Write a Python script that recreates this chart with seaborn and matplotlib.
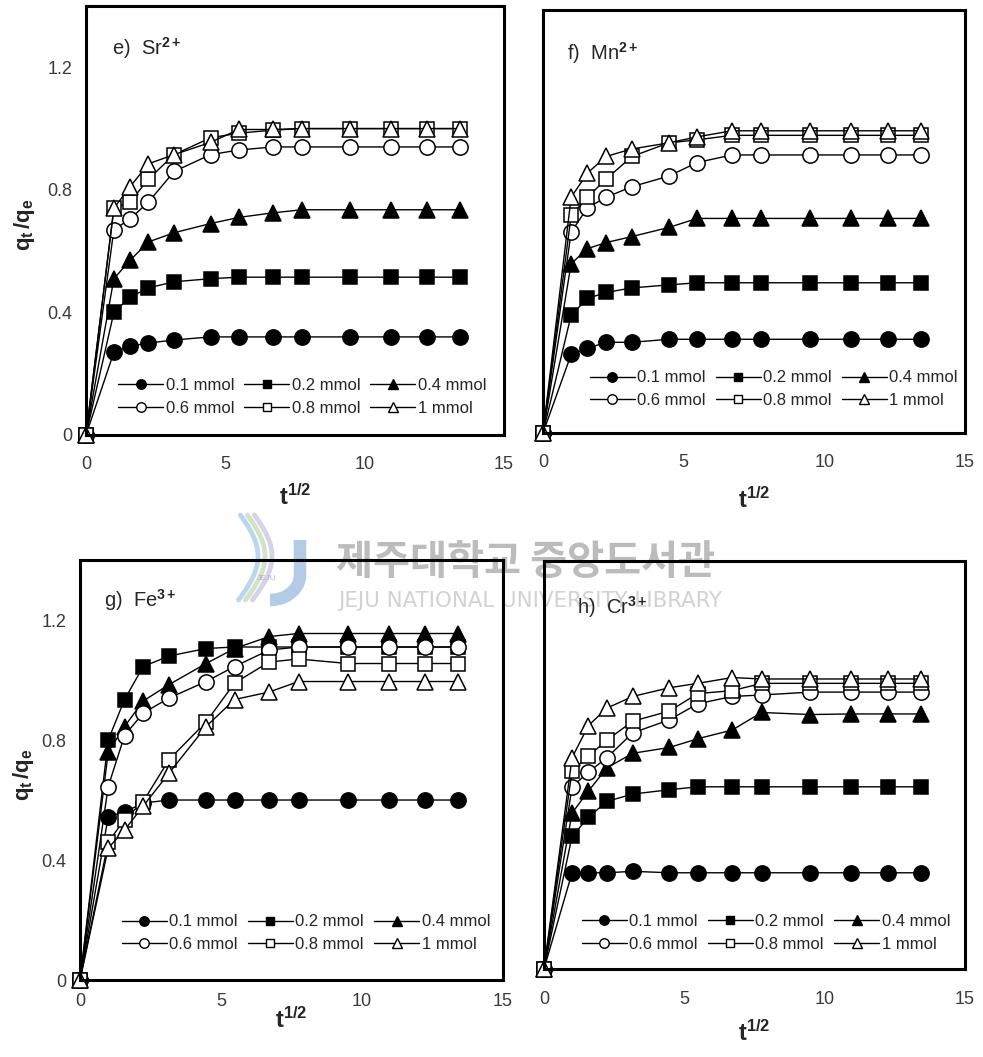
import numpy as np
import pandas as pd
import matplotlib
matplotlib.use('Agg')
import matplotlib.pyplot as plt
import seaborn as sns
from matplotlib.lines import Line2D

sns.set_style('white')
plt.rcParams['font.family'] = ['Liberation Sans', 'DejaVu Sans']
plt.rcParams['mathtext.fontset'] = 'custom'
plt.rcParams['mathtext.rm'] = 'Liberation Sans'
plt.rcParams['mathtext.bf'] = 'Liberation Sans:bold'
plt.rcParams['mathtext.it'] = 'Liberation Sans:italic'

# ---------------- data ----------------
sqrt_t = [0, 1.0, 1.58, 2.24, 3.16, 4.47, 5.48, 6.71, 7.75, 9.49, 10.95, 12.25, 13.42]
doses = ['0.1 mmol', '0.2 mmol', '0.4 mmol', '0.6 mmol', '0.8 mmol', '1 mmol']

sr_01 = [0, 0.27, 0.29, 0.30, 0.31, 0.32, 0.32, 0.32, 0.32, 0.32, 0.32, 0.32, 0.32]
sr_02 = [0, 0.40, 0.45, 0.48, 0.50, 0.51, 0.515, 0.515, 0.515, 0.515, 0.515, 0.515, 0.515]
sr_04 = [0, 0.51, 0.57, 0.63, 0.66, 0.69, 0.71, 0.725, 0.735, 0.735, 0.735, 0.735, 0.735]
sr_06 = [0, 0.67, 0.705, 0.76, 0.86, 0.915, 0.93, 0.94, 0.94, 0.94, 0.94, 0.94, 0.94]
sr_08 = [0, 0.74, 0.76, 0.835, 0.915, 0.97, 0.985, 0.995, 1.0, 1.0, 1.0, 1.0, 1.0]
sr_10 = [0, 0.74, 0.81, 0.885, 0.915, 0.955, 0.997, 0.997, 1.0, 1.0, 1.0, 1.0, 1.0]

mn_01 = [0, 0.26, 0.28, 0.30, 0.30, 0.31, 0.31, 0.31, 0.31, 0.31, 0.31, 0.31, 0.31]
mn_02 = [0, 0.39, 0.445, 0.465, 0.48, 0.49, 0.497, 0.497, 0.497, 0.497, 0.497, 0.497, 0.497]
mn_04 = [0, 0.56, 0.61, 0.63, 0.65, 0.68, 0.71, 0.71, 0.71, 0.71, 0.71, 0.71, 0.71]
mn_06 = [0, 0.665, 0.745, 0.78, 0.815, 0.85, 0.895, 0.92, 0.92, 0.92, 0.92, 0.92, 0.92]
mn_08 = [0, 0.72, 0.78, 0.84, 0.915, 0.96, 0.97, 0.985, 0.985, 0.985, 0.985, 0.985, 0.985]
mn_10 = [0, 0.78, 0.86, 0.915, 0.94, 0.96, 0.98, 1.0, 1.0, 1.0, 1.0, 1.0, 1.0]

fe_01 = [0, 0.545, 0.56, 0.59, 0.60, 0.60, 0.60, 0.60, 0.60, 0.60, 0.60, 0.60, 0.60]
fe_02 = [0, 0.80, 0.935, 1.045, 1.08, 1.105, 1.11, 1.11, 1.11, 1.11, 1.11, 1.11, 1.11]
fe_04 = [0, 0.76, 0.845, 0.93, 0.985, 1.055, 1.105, 1.145, 1.155, 1.155, 1.155, 1.155, 1.155]
fe_06 = [0, 0.645, 0.815, 0.89, 0.94, 0.995, 1.045, 1.10, 1.11, 1.11, 1.11, 1.11, 1.11]
fe_08 = [0, 0.46, 0.535, 0.595, 0.735, 0.86, 0.99, 1.06, 1.07, 1.055, 1.055, 1.055, 1.055]
fe_10 = [0, 0.44, 0.50, 0.58, 0.69, 0.845, 0.935, 0.96, 0.995, 0.995, 0.995, 0.995, 0.995]

cr_01 = [0, 0.33, 0.33, 0.33, 0.335, 0.33, 0.33, 0.33, 0.33, 0.33, 0.33, 0.33, 0.33]
cr_02 = [0, 0.455, 0.52, 0.575, 0.60, 0.615, 0.625, 0.625, 0.625, 0.625, 0.625, 0.625, 0.625]
cr_04 = [0, 0.535, 0.61, 0.69, 0.74, 0.76, 0.79, 0.82, 0.88, 0.873, 0.875, 0.875, 0.875]
cr_06 = [0, 0.625, 0.675, 0.725, 0.81, 0.855, 0.91, 0.935, 0.94, 0.95, 0.95, 0.95, 0.95]
cr_08 = [0, 0.68, 0.73, 0.785, 0.85, 0.885, 0.945, 0.955, 0.98, 0.98, 0.98, 0.98, 0.98]
cr_10 = [0, 0.725, 0.835, 0.895, 0.935, 0.965, 0.98, 1.0, 0.995, 0.995, 0.995, 0.995, 0.995]

panel_titles = [r'e)  Sr$^{\mathbf{2+}}$', r'f)  Mn$^{\mathbf{2+}}$',
                r'g)  Fe$^{\mathbf{3+}}$', r'h)  Cr$^{\mathbf{3+}}$']
panel_series = [
    [sr_01, sr_02, sr_04, sr_06, sr_08, sr_10],
    [mn_01, mn_02, mn_04, mn_06, mn_08, mn_10],
    [fe_01, fe_02, fe_04, fe_06, fe_08, fe_10],
    [cr_01, cr_02, cr_04, cr_06, cr_08, cr_10],
]
x_ticks = [0, 5, 10, 15]
y_ticks = [0, 0.4, 0.8, 1.2]
y_tick_labels = ['0', '0.4', '0.8', '1.2']

# ---------------- styles ----------------
styles = [('o', 'black', 11), ('s', 'black', 10), ('^', 'black', 11),
          ('o', 'white', 11), ('s', 'white', 10), ('^', 'white', 11)]

axes_rects = [
    [0.0875, 0.5885, 0.4252, 0.4058],
    [0.5524, 0.5904, 0.4293, 0.4002],
    [0.0814, 0.0728, 0.4303, 0.3974],
    [0.5534, 0.0833, 0.4283, 0.3860],
]
title_pos = [(0.062, 0.902), (0.056, 0.898), (0.056, 0.905), (0.078, 0.887)]
legend_anchor = [(0.077, 0.045), (0.111, 0.059), (0.099, 0.067), (0.090, 0.042)]
xlabel_y = [-0.114, -0.128, -0.066, -0.125]
xtick_pad = [15, 15, 9, 16]
ylabel_x = [-0.118, None, -0.103, None]

fig = plt.figure(figsize=(9.83, 10.57), dpi=100)
fig.patch.set_facecolor('white')

# watermark (drawn behind the axes)
fig.text(336 / 983, 1 - 563 / 1057, '제주대학교 중앙도서관', fontsize=29, fontweight='bold',
         family=['Noto Sans CJK KR', 'DejaVu Sans'], color='#bcbcbc',
         va='center', ha='left', zorder=-2)
fig.text(338 / 983, 1 - 601 / 1057, 'JEJU NATIONAL UNIVERSITY LIBRARY', fontsize=15.3,
         family=['DejaVu Sans'], color='#d2d2d2', va='center', ha='left', zorder=-2)
# simple logo hint
th = np.linspace(0, 1, 60)
for dx, col in [(0, '#b5d3ec'), (7, '#cfe2bf'), (14, '#d4cde6')]:
    xs = (236 + dx + 22 * np.sin(th * np.pi * 0.9 + 0.2)) / 983
    ys = 1 - (515 + 85 * th) / 1057
    fig.add_artist(Line2D(xs, ys, color=col, lw=3.5, zorder=-2, alpha=0.9))
tj = np.linspace(0, np.pi / 2, 30)
jx = np.concatenate([[300, 300], 300 - 30 * (1 - np.cos(tj))])
jy = np.concatenate([[540, 575], 575 + 25 * np.sin(tj)])
fig.add_artist(Line2D(jx / 983, 1 - jy / 1057, color='#b3cbe6', lw=9, zorder=-2,
                      solid_capstyle='butt'))
fig.text(267 / 983, 1 - 578 / 1057, 'JEJU', fontsize=6, color='#a8b8c8',
         ha='center', va='center', zorder=-2)

for i in range(4):
    ax = fig.add_axes(axes_rects[i])
    ax.patch.set_visible(False)
    series = panel_series[i]
    for j, dose in enumerate(doses):
        df = pd.DataFrame({'t': sqrt_t, 'q': series[j]})
        m, fc, ms = styles[j]
        sns.lineplot(data=df, x='t', y='q', ax=ax, color='black', lw=1,
                     marker=m, markersize=ms, markerfacecolor=fc,
                     markeredgecolor='black', markeredgewidth=1.1,
                     sort=False, estimator=None, clip_on=False, legend=False)
    ax.set_xlim(0, 15)
    ax.set_ylim(0, 1.4)
    ax.set_xticks(x_ticks)
    ax.set_yticks(y_ticks)
    ax.set_yticklabels(y_tick_labels)
    for sp in ax.spines.values():
        sp.set_visible(True)
        sp.set_linewidth(2.2)
        sp.set_color('black')
    ax.tick_params(direction='in', length=5, width=1.5, labelsize=13,
                   labelcolor='#3a3a3a', color='black')
    ax.tick_params(axis='x', pad=xtick_pad[i])
    ax.tick_params(axis='y', pad=10)
    ax.set_xlabel(r'$\mathbf{t^{1/2}}$', fontsize=17)
    ax.xaxis.set_label_coords(0.5, xlabel_y[i])
    if ylabel_x[i] is None:
        ax.tick_params(axis='y', labelleft=False)
        ax.set_ylabel('')
    else:
        ax.set_ylabel(r'$\mathbf{q_t\,/q_e}$', fontsize=16)
        ax.yaxis.set_label_coords(ylabel_x[i], 0.49)
    ax.text(title_pos[i][0], title_pos[i][1], panel_titles[i], transform=ax.transAxes,
            fontsize=14.5, ha='left', va='center')

    handles = []
    for j, dose in enumerate(doses):
        m, fc, ms = styles[j]
        handles.append(Line2D([], [], color='black', lw=1, marker=m, markersize=ms * 0.62,
                              markerfacecolor=fc, markeredgecolor='black',
                              markeredgewidth=1))
    order = [0, 3, 1, 4, 2, 5]
    ax.legend([handles[k] for k in order], [doses[k] for k in order], ncol=3,
              loc='lower left', bbox_to_anchor=legend_anchor[i], frameon=False,
              fontsize=12, handlelength=2.7, handletextpad=0.15, columnspacing=0.6,
              labelspacing=0.45, borderpad=0, borderaxespad=0)

fig.savefig('out.png', dpi=100, facecolor='white')
